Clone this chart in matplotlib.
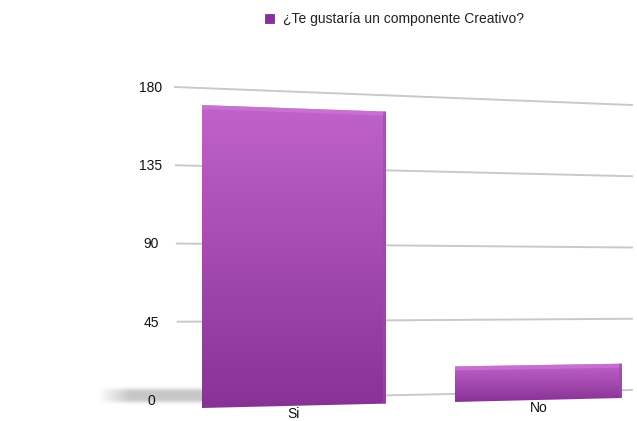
import numpy as np
import matplotlib
matplotlib.use('Agg')
import matplotlib.pyplot as plt
from matplotlib.patches import Polygon

plt.rcParams['font.family'] = ['Liberation Sans', 'DejaVu Sans']

# datos
categories = ['Si', 'No']
values = [170, 21]
ticks = [0, 45, 90, 135, 180]
series_name = '¿Te gustaría un componente Creativo?'

# plano de la rejilla (perspectiva): base y escala dependen de x
GX0, GX1 = 175, 632


def grid_y(x, v):
    t = (x - GX0) / (GX1 - GX0)
    base = 400 - 10 * t
    top = 87 + 18 * t
    return base - (base - top) * v / 180.0


# plano frontal de las barras
def front_y(x, v):
    base = 408 - (x - 202) * 0.0238
    k = 1.782 - (x - 202) * 0.00035
    return base - k * v


bar_span = [(202, 386), (455, 622)]
top_col = np.array([192, 98, 202]) / 255
bot_col = np.array([136, 50, 150]) / 255

fig = plt.figure(figsize=(6.37, 4.21), dpi=100)
ax = fig.add_axes([0, 0, 1, 1])
ax.set_xlim(0, 637)
ax.set_ylim(421, 0)
ax.axis('off')

# rejilla
for t in ticks:
    x0 = GX0 + (180 - t) * 0.02 if t > 0 else 202
    xs = np.array([x0, GX1])
    ax.plot(xs, grid_y(xs, t), color='#c9c9c9', lw=1.4, zorder=1)
    ax.text(151, grid_y(GX0, t) + 1, str(t), ha='center', va='center',
            fontsize=10, color='#111111', zorder=5)

# sombra a la izquierda de la primera barra
nx, ny = 200, 30
ramp = np.clip(np.linspace(0, 1, nx) / 0.3, 0, 1)[None, :]
vert = np.exp(-((np.linspace(-1, 1, ny)) ** 4) * 3.0)[:, None]
sh = np.zeros((ny, nx, 4))
sh[..., :3] = 0.6
sh[..., 3] = 0.55 * ramp * vert
ax.imshow(sh, extent=(98, 204, 405, 386), aspect='auto', zorder=2,
          interpolation='bilinear')

# barras
for (x0, x1), v, cat in zip(bar_span, values, categories):
    pts = [(x0, front_y(x0, 0)), (x1, front_y(x1, 0)),
           (x1, front_y(x1, v)), (x0, front_y(x0, v))]
    poly = Polygon(pts, closed=True, facecolor='none', edgecolor='none', zorder=3)
    ax.add_patch(poly)
    n = 256
    grad = np.zeros((n, 1, 3))
    for i in range(3):
        grad[:, 0, i] = np.linspace(top_col[i], bot_col[i], n)
    ytop = min(front_y(x0, v), front_y(x1, v))
    ybot = max(front_y(x0, 0), front_y(x1, 0))
    im = ax.imshow(grad, extent=(x0, x1, ybot, ytop), aspect='auto',
                   origin='upper', zorder=3, interpolation='bilinear')
    im.set_clip_path(poly)
    # cara superior clara
    cap = [(x0, front_y(x0, v)), (x1, front_y(x1, v)),
           (x1, front_y(x1, v) + 4), (x0, front_y(x0, v) + 4)]
    ax.add_patch(Polygon(cap, closed=True, facecolor='#cc78d4',
                         edgecolor='none', alpha=0.7, zorder=4))
    # borde derecho
    side = [(x1 - 3, front_y(x1 - 3, v)), (x1, front_y(x1, v)),
            (x1, front_y(x1, 0)), (x1 - 3, front_y(x1 - 3, 0))]
    ax.add_patch(Polygon(side, closed=True, facecolor='#9d48ad',
                         edgecolor='none', alpha=0.6, zorder=4))
    xc = (x0 + x1) / 2
    ax.text(xc, front_y(xc, 0) + 8, cat, ha='center', va='center',
            fontsize=10, color='#111111')

ax.set_xlim(0, 637)
ax.set_ylim(421, 0)

# leyenda
ax.add_patch(Polygon([(265, 14), (274, 14), (274, 23), (265, 23)], closed=True,
                     facecolor='#8a2fa0', edgecolor='#6a2080', lw=0.5))
ax.text(283, 19, series_name, ha='left', va='center', fontsize=10,
        color='#222222')

fig.savefig('out.png', dpi=100)
